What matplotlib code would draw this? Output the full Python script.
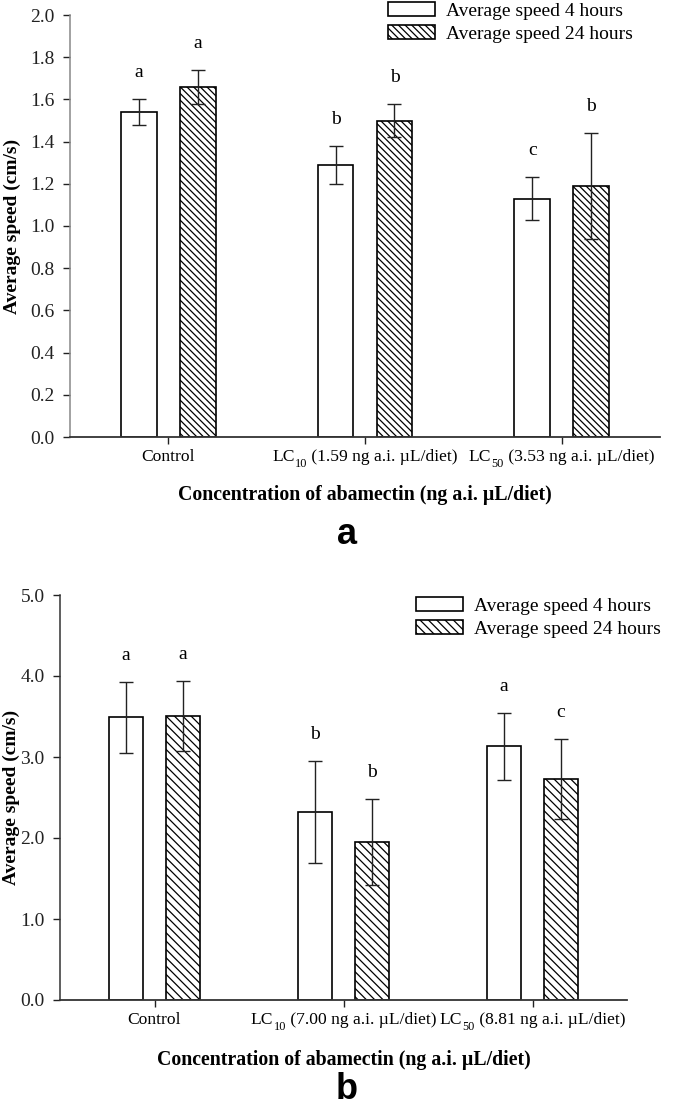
import numpy as np
import matplotlib
matplotlib.use("Agg")
import matplotlib.pyplot as plt
from matplotlib.ticker import FormatStrFormatter

plt.rcParams['font.family'] = ['Liberation Serif', 'DejaVu Serif']
plt.rcParams['hatch.linewidth'] = 0.9

# panel a data: (main, subscript, rest) for the x labels
labels_a = [('Control', '', ''),
            ('LC', '10', ' (1.59 ng a.i. µL/diet)'),
            ('LC', '50', ' (3.53 ng a.i. µL/diet)')]
speed4_a = [1.54, 1.29, 1.13]
err4_a = [0.06, 0.09, 0.10]
speed24_a = [1.66, 1.50, 1.19]
err24_a = [0.08, 0.08, 0.25]
letters4_a = ['a', 'b', 'c']
letters24_a = ['a', 'b', 'b']

# panel b data
labels_b = [('Control', '', ''),
            ('LC', '10', ' (7.00 ng a.i. µL/diet)'),
            ('LC', '50', ' (8.81 ng a.i. µL/diet)')]
speed4_b = [3.49, 2.32, 3.13]
err4_b = [0.44, 0.63, 0.41]
speed24_b = [3.51, 1.95, 2.73]
err24_b = [0.43, 0.53, 0.49]
letters4_b = ['a', 'b', 'a']
letters24_b = ['a', 'b', 'c']

W, H = 685, 1108
fig = plt.figure(figsize=(W / 100, H / 100), dpi=100)
label_parts = []  # (first, last, y offset) for centring after a draw


def xlabel_with_sub(ax, xt, main, sub, rest, fs=12.6, yoff=12):
    t1 = ax.annotate(main, xy=(xt, 0), xycoords=('data', 'axes fraction'),
                     xytext=(0, -yoff), textcoords='offset pixels',
                     ha='left', va='top', fontsize=fs)
    last = t1
    if sub:
        t2 = ax.annotate(sub, xy=(1, 0), xycoords=t1, xytext=(0.5, -5),
                         textcoords='offset pixels', ha='left', va='bottom', fontsize=fs * 0.7)
        t3 = ax.annotate(rest, xy=(1, 0), xycoords=(t2, t1), xytext=(0, 0),
                         textcoords='offset pixels', ha='left', va='bottom', fontsize=fs)
        last = t3
    label_parts.append((t1, last, yoff))


def draw_panel(rect, labels, s4, e4, s24, e24, l4, l24, ymax, ystep, legend_xy,
               left_col, hatch, xlab_y, ylab_x):
    ax = fig.add_axes(rect)
    x = np.arange(len(labels))
    w = 0.18
    off = 0.15
    ax.bar(x - off, s4, w, color='white', edgecolor='black', linewidth=1.2, zorder=2,
           label='Average speed 4 hours')
    ax.bar(x + off, s24, w, color='white', edgecolor='black', linewidth=1.2, hatch=hatch,
           zorder=2, label='Average speed 24 hours')
    ax.errorbar(x - off, s4, yerr=e4, fmt='none', ecolor='#222222', elinewidth=1.0,
                capsize=4.7, capthick=1.0, zorder=3)
    ax.errorbar(x + off, s24, yerr=e24, fmt='none', ecolor='#222222', elinewidth=1.0,
                capsize=4.7, capthick=1.0, zorder=3)
    for xi, v, e, t in zip(x - off, s4, e4, l4):
        ax.annotate(t, (xi, v + e), xytext=(0, 13), textcoords='offset points',
                    ha='center', va='bottom', fontsize=14)
    for xi, v, e, t in zip(x + off, s24, e24, l24):
        ax.annotate(t, (xi, v + e), xytext=(0, 13), textcoords='offset points',
                    ha='center', va='bottom', fontsize=14)

    ax.set_xlim(-0.5, 2.5)
    ax.set_ylim(0, ymax)
    ax.set_yticks(np.arange(0, ymax + ystep / 2, ystep))
    ax.yaxis.set_major_formatter(FormatStrFormatter('%.1f'))
    ax.set_xticks(x)
    ax.set_xticklabels([])
    for xt, (main, sub, rest) in zip(x, labels):
        xlabel_with_sub(ax, xt, main, sub, rest)
    ax.tick_params(axis='both', direction='out', length=5, width=1.0, labelsize=14, colors='#222222')
    ax.tick_params(axis='y', pad=6)
    ax.spines['top'].set_visible(False)
    ax.spines['right'].set_visible(False)
    ax.spines['left'].set_color(left_col)
    ax.spines['bottom'].set_color('#333333')
    ax.spines['left'].set_linewidth(1.1)
    ax.spines['bottom'].set_linewidth(1.3)
    ax.set_ylabel('Average speed (cm/s)', fontsize=14, fontweight='bold')
    ax.yaxis.label.set_va('center')
    ax.yaxis.set_label_coords(ylab_x, 0.5)
    ax.set_xlabel('Concentration of abamectin (ng a.i. µL/diet)', fontsize=14.3,
                  fontweight='bold')
    ax.xaxis.label.set_va('center')
    ax.xaxis.set_label_coords(0.5, xlab_y)
    ax.legend(loc='upper left', bbox_to_anchor=legend_xy, bbox_transform=fig.transFigure,
              frameon=False, fontsize=14, handlelength=2.4, handleheight=0.7,
              handletextpad=0.6, labelspacing=0.3, borderpad=0.1, borderaxespad=0)
    return ax


ax_a = draw_panel([70 / W, 1 - 437 / H, 590 / W, 422 / H], labels_a,
                  speed4_a, err4_a, speed24_a, err24_a, letters4_a, letters24_a,
                  2.0, 0.2, (386 / W, 1 - 0 / H), '#888888', '\\\\\\\\\\',
                  (437 - 495) / 422, (12 - 70) / 590)
ax_b = draw_panel([60 / W, 1 - 1000 / H, 567 / W, 405 / H], labels_b,
                  speed4_b, err4_b, speed24_b, err24_b, letters4_b, letters24_b,
                  5.0, 1.0, (414 / W, 1 - 595 / H), '#333333', '\\\\\\\\',
                  (1000 - 1060) / 405, (11 - 60) / 567)

# centre the composed tick labels under their ticks
fig.canvas.draw()
renderer = fig.canvas.get_renderer()
for first, last, yoff in label_parts:
    b0 = first.get_window_extent(renderer)
    b1 = last.get_window_extent(renderer)
    first.xyann = (-(b1.x1 - b0.x0) / 2, -yoff)

fig.text(347 / W, 1 - 544 / H, 'a', fontsize=26, fontweight='bold', family='Liberation Sans',
         ha='center', va='baseline')
fig.text(347 / W, 1 - 1099 / H, 'b', fontsize=26, fontweight='bold', family='Liberation Sans',
         ha='center', va='baseline')

fig.savefig('out.png', dpi=100)
